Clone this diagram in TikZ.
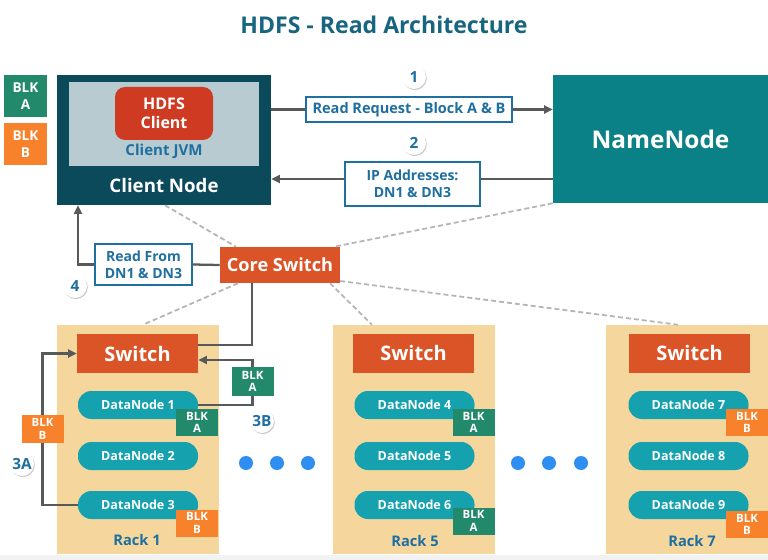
\documentclass[tikz,border=0pt]{standalone}
\usepackage{fontspec}
\setmainfont{Open Sans}
\usetikzlibrary{shadows,arrows.meta}
\definecolor{ttl}{HTML}{17657E}
\definecolor{lblue}{HTML}{1F6FA0}
\definecolor{cnode}{HTML}{0B4A5B}
\definecolor{cinner}{HTML}{B7CBD1}
\definecolor{cred}{HTML}{CF3B22}
\definecolor{nnode}{HTML}{0A8087}
\definecolor{sw}{HTML}{DB5427}
\definecolor{rack}{HTML}{F5D79E}
\definecolor{dnode}{HTML}{16A1AF}
\definecolor{bgreen}{HTML}{23896B}
\definecolor{borange}{HTML}{F7822B}
\definecolor{dotc}{HTML}{2E8EF2}
\definecolor{arrc}{HTML}{58595B}
\definecolor{dashc}{HTML}{B4B4B4}
\tikzset{
  box/.style={inner sep=0pt, align=center, font=\bfseries},
  blk/.style={box, minimum width=31.5pt, minimum height=20.25pt, text=white, font=\bfseries\fontsize{8.6}{9.6}\selectfont},
  blkg/.style={blk, fill=bgreen},
  blko/.style={blk, fill=borange},
  swbox/.style={box, fill=sw, text=white, minimum width=90.75pt, minimum height=29.25pt, font=\bfseries\fontsize{15}{17}\selectfont},
  dn/.style={box, fill=dnode, text=white, rounded corners=10pt, minimum width=90pt, minimum height=21pt, font=\bfseries\fontsize{9.4}{11}\selectfont},
  rackbox/.style={box, fill=rack, minimum width=121.5pt, minimum height=171.75pt},
  lbl/.style={box, draw=lblue, line width=1.4pt, fill=white, text=lblue, font=\bfseries\fontsize{10.5}{12.5}\selectfont},
  badge/.style={circle, fill=white, inner sep=0pt, minimum size=18pt, text=lblue, font=\bfseries\fontsize{11.5}{13}\selectfont, drop shadow={opacity=0.35, shadow xshift=0.6pt, shadow yshift=-0.8pt, fill=black!60}},
  racklbl/.style={text=lblue, font=\bfseries\fontsize{11}{13}\selectfont},
  arr/.style={draw=arrc, line width=1.7pt, -{Triangle[length=6.5pt,width=6pt]}},
  ln/.style={draw=arrc, line width=1.7pt},
  dsh/.style={draw=dashc, line width=1.3pt, dash pattern=on 3.75pt off 2.25pt},
  dot/.style={circle, fill=dotc, minimum size=10.5pt, inner sep=0pt}
}
\begin{document}
\begin{tikzpicture}[x=0.75pt,y=-0.75pt]
\useasboundingbox (0,0) rectangle (768,560);
\fill[white] (0,0) rectangle (768,560);
\fill[gray!10] (0,555) rectangle (768,560);

% title
\node[box, text=ttl, font=\bfseries\fontsize{17.3}{20}\selectfont] (title) at (384,25) {HDFS - Read Architecture};

% legend
\node[blkg, minimum width=32.25pt, minimum height=31.5pt, font=\bfseries\fontsize{10.2}{12.5}\selectfont] (legA) at (25.5,96) {BLK\\A};
\node[blko, minimum width=32.25pt, minimum height=31.5pt, font=\bfseries\fontsize{10.2}{12.5}\selectfont] (legB) at (25.5,144) {BLK\\B};

% client node
\node[box, fill=cnode, minimum width=160.5pt, minimum height=97.5pt] (client) at (164,140) {};
\node[box, fill=cinner, minimum width=142.5pt, minimum height=63pt] (jvm) at (164,124) {};
\node[box, fill=cred, rounded corners=7.5pt, minimum width=73.5pt, minimum height=39.75pt, text=white, font=\bfseries\fontsize{12}{14}\selectfont] (hclient) at (164,113.5) {HDFS\\Client};
\node[box, text=lblue, font=\bfseries\fontsize{11.3}{13}\selectfont] (jvmtxt) at (164,151) {Client JVM};
\node[box, text=white, font=\bfseries\fontsize{14}{16}\selectfont] (cntxt) at (164,185) {Client Node};

% name node
\node[box, fill=nnode, minimum width=161.25pt, minimum height=96pt, text=white, font=\bfseries\fontsize{18.3}{21}\selectfont] (namenode) at (660.5,139) {NameNode};

% labels 1 & 2
\node[lbl, minimum width=154.5pt, minimum height=18.75pt, font=\bfseries\fontsize{10.9}{13}\selectfont] (lbl1) at (409,109.5) {Read Request - Block A \& B};
\node[lbl, minimum width=101.25pt, minimum height=33pt] (lbl2) at (412.5,184) {IP Addresses:\\DN1 \& DN3};
\coordinate (y2) at (0,179);
\draw[ln] (client.east |- lbl1.west) -- (lbl1.west);
\draw[arr] (lbl1.east) -- (namenode.west |- lbl1.east);
\draw[ln] (namenode.west |- y2) -- (lbl2.east |- y2);
\draw[arr] (lbl2.west |- y2) -- (client.east |- y2);
\node[badge] (b1) at (414,77) {1};
\node[badge] (b2) at (414,143) {2};

% racks
\node[rackbox] (rack1) at (137.5,439.5) {};
\node[rackbox] (rack5) at (413.5,439.5) {};
\node[rackbox] (rack7) at (686.5,439.5) {};

% core switch
\node[swbox, minimum width=90pt, minimum height=27pt, font=\bfseries\fontsize{13.6}{16}\selectfont] (core) at (280,265) {Core Switch};

% dashed links
\coordinate (dc1) at (165,207);
\coordinate (dc2) at (236,247);
\coordinate (dc3) at (334,247);
\coordinate (dr1a) at (238,283);
\coordinate (dr1b) at (143,325);
\coordinate (dr5a) at (330,283);
\coordinate (dr5b) at (372,325);
\coordinate (dr7a) at (340,281);
\coordinate (dr7b) at (678,325);
\draw[dsh] (client.south -| dc1) -- (core.north -| dc2);
\draw[dsh] (namenode.south west) -- (core.north -| dc3);
\draw[dsh] (core.south -| dr1a) -- (rack1.north -| dr1b);
\draw[dsh] (core.south -| dr5a) -- (rack5.north -| dr5b);
\draw[dsh] (core.east |- dr7a) -- (rack7.north -| dr7b);

% label 4
\node[lbl, minimum width=72.75pt, minimum height=30.75pt] (lbl4) at (143.5,264.5) {Read From\\DN1 \& DN3};
\coordinate (x4) at (78,0);
\draw[ln] (core.west) -- (lbl4.east);
\draw[arr] (lbl4.west) -| (client.south -| x4);
\node[badge] (b4) at (75,286) {4};

% switches
\node[swbox] (sw1) at (137.5,353.5) {Switch};
\node[swbox] (sw5) at (413.5,353) {Switch};
\node[swbox] (sw7) at (689.5,353) {Switch};

% core to switch 1
\coordinate (xc) at (252,0);
\coordinate (yc) at (0,345);
\draw[ln] (core.south -| xc) |- (sw1.east |- yc);

% data nodes
\node[dn] (dn1) at (138,405) {DataNode 1};
\node[dn] (dn2) at (138,456) {DataNode 2};
\node[dn] (dn3) at (138,505) {DataNode 3};
\node[dn] (dn4) at (414.5,405) {DataNode 4};
\node[dn] (dn5) at (414.5,456) {DataNode 5};
\node[dn] (dn6) at (414.5,505) {DataNode 6};
\node[dn] (dn7) at (688.5,405) {DataNode 7};
\node[dn] (dn8) at (688.5,456) {DataNode 8};
\node[dn] (dn9) at (688.5,505) {DataNode 9};

% block tags
\node[blkg] (t1) at (197,422.5) {BLK\\A};
\node[blko] (t3) at (197,523) {BLK\\B};
\node[blkg] (t4) at (473.5,422.5) {BLK\\A};
\node[blkg] (t6) at (473.5,521) {BLK\\A};
\node[blko] (t7) at (747,422.5) {BLK\\B};
\node[blko] (t9) at (747,524.5) {BLK\\B};

% 3B path
\node[blkg, minimum height=21.75pt] (fA) at (252.5,381.5) {BLK\\A};
\coordinate (y3b) at (0,360);
\draw[ln] (dn1.east) -| (fA.south);
\draw[arr] (fA.north) |- (sw1.east |- y3b);
\node[badge] (b3b) at (262,421) {3B};

% 3A path
\node[blko, minimum height=21pt] (fB) at (42.5,429) {BLK\\B};
\draw[ln] (dn3.west) -| (fB.south);
\draw[arr] (fB.north) |- (sw1.west);
\node[badge] (b3a) at (22,464) {3A};

% dots
\node[dot] (d1) at (246,463) {};
\node[dot] (d2) at (277,463) {};
\node[dot] (d3) at (308,463) {};
\node[dot] (d4) at (518,463) {};
\node[dot] (d5) at (549,463) {};
\node[dot] (d6) at (581,463) {};

% rack labels
\node[racklbl] (r1) at (137,540) {Rack 1};
\node[racklbl] (r5) at (415,541) {Rack 5};
\node[racklbl] (r7) at (692,541) {Rack 7};
\end{tikzpicture}
\end{document}
